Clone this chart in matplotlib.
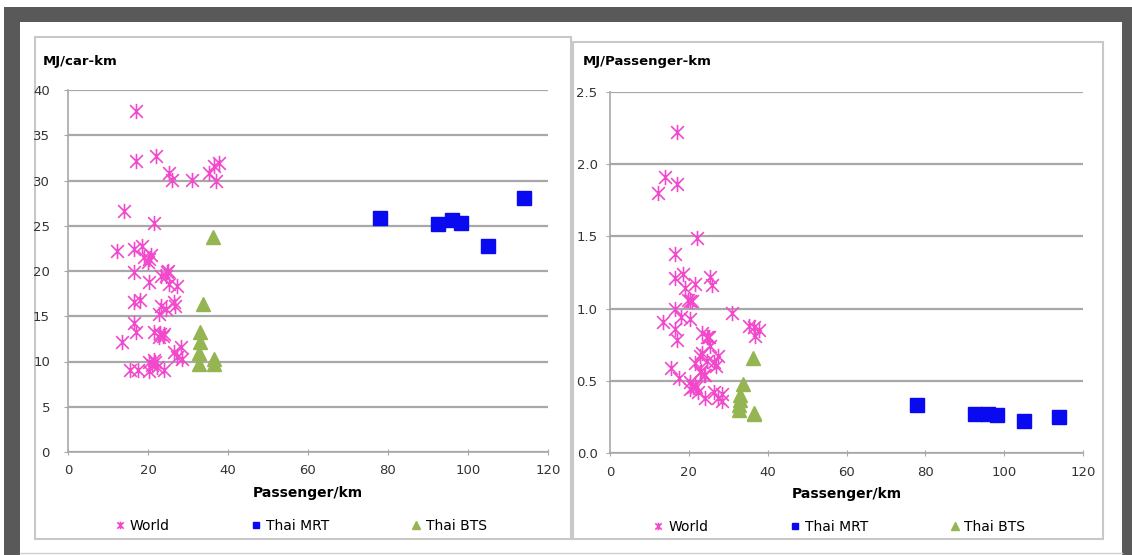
import matplotlib
matplotlib.use('Agg')
import matplotlib.pyplot as plt
from matplotlib.path import Path
from matplotlib.patches import Rectangle

# ─── Data ─────────────────────────────────────────────────────────────────────
world_x = [17.0, 17.0, 22.0, 25.3, 26.0, 31.0, 35.2, 36.5, 37.7, 36.9,
           13.9, 21.6, 12.3, 16.6, 18.4, 19.0, 19.9, 20.3, 16.4, 20.3,
           23.3, 24.8, 25.3, 27.3, 26.5, 26.8, 16.6, 17.9, 23.3, 22.8,
           16.6, 17.1, 21.6, 22.8, 24.0, 13.4, 26.5, 28.3, 27.3, 20.3,
           21.6, 15.4, 17.4, 20.3, 22.3, 24.0, 28.5,
           20.8, 24.5, 25.0, 23.0, 23.8, 21.0, 21.8, 24.5]
world_car = [37.7, 32.1, 32.7, 30.8, 30.1, 30.1, 30.8, 31.6, 31.9, 29.9,
             26.6, 25.3, 22.2, 22.4, 22.8, 21.6, 21.0, 21.3, 19.9, 18.8,
             19.4, 19.9, 18.6, 18.3, 16.6, 16.1, 16.6, 16.8, 16.1, 15.3,
             14.2, 13.3, 13.3, 12.7, 13.0, 12.2, 11.1, 11.6, 10.5, 10.0,
             10.2, 9.1, 9.1, 8.9, 9.4, 9.1, 10.3,
             21.8, 19.5, 20.0, 13.0, 12.8, 9.6, 10.0, 15.8]
world_pkm = [2.22, 1.86, 1.49, 1.22, 1.16, 0.97, 0.88, 0.87, 0.85, 0.81,
             1.91, 1.17, 1.80, 1.38, 1.24, 1.14, 1.06, 1.05, 1.21, 0.93,
             0.83, 0.80, 0.74, 0.67, 0.63, 0.60, 1.00, 0.94, 0.69, 0.67,
             0.86, 0.78, 0.62, 0.56, 0.54, 0.91, 0.42, 0.41, 0.38, 0.49,
             0.47, 0.59, 0.52, 0.44, 0.42, 0.38, 0.36,
             1.05, 0.80, 0.80, 0.57, 0.54, 0.46, 0.46, 0.64]

mrt_x = [78.0, 92.5, 96.0, 98.3, 105.0, 114.0]
mrt_car = [25.9, 25.2, 25.6, 25.3, 22.8, 28.1]
mrt_pkm = [0.33, 0.27, 0.27, 0.26, 0.22, 0.25]

bts_x = [36.3, 33.8, 33.0, 33.0, 32.8, 32.8, 36.6, 36.6]
bts_car = [23.8, 16.3, 13.3, 12.2, 10.9, 9.7, 10.3, 9.7]
bts_pkm = [0.66, 0.48, 0.40, 0.37, 0.33, 0.30, 0.28, 0.27]

# ─── Styles ───────────────────────────────────────────────────────────────────
PINK = '#F248CC'
BLUE = '#0A0AF0'
GREEN = '#94B552'
GRID = '#A8A8A8'
DARK = '#595959'
BOX = '#C8C8C8'

# Excel-style "star" marker: an X with a vertical bar
STAR = Path([(-1, -1), (1, 1), (-1, 1), (1, -1), (0, -1.2), (0, 1.2)],
            [Path.MOVETO, Path.LINETO, Path.MOVETO, Path.LINETO,
             Path.MOVETO, Path.LINETO])

W, H = 1132, 555
fig = plt.figure(figsize=(W / 100, H / 100), dpi=100)
fig.patch.set_facecolor('white')

# ─── Frame (pixel coordinates) ────────────────────────────────────────────────
bg = fig.add_axes([0, 0, 1, 1])
bg.set_xlim(0, W)
bg.set_ylim(H, 0)
bg.axis('off')
bg.add_patch(Rectangle((4, 7), 1128, 15, facecolor=DARK, edgecolor='none'))
bg.add_patch(Rectangle((4, 7), 16, 548, facecolor=DARK, edgecolor='none'))
bg.add_patch(Rectangle((1122, 7), 10, 548, facecolor=DARK, edgecolor='none'))
bg.plot([20, 1122], [553, 553], color='#D0D0D0', lw=1)
bg.add_patch(Rectangle((35, 37), 536, 502, facecolor='white',
                       edgecolor=BOX, lw=1.5))
bg.add_patch(Rectangle((573, 42), 530, 497, facecolor='white',
                       edgecolor=BOX, lw=1.5))


def px_axes(x0, x1, y0, y1):
    return fig.add_axes([x0 / W, (H - y1) / H, (x1 - x0) / W, (y1 - y0) / H])


def style_axes(ax, ylim, yticks, yfmt, ypad):
    ax.set_xlim(0, 120)
    ax.set_ylim(*ylim)
    ax.set_xticks(range(0, 121, 20))
    ax.set_yticks(yticks)
    ax.set_yticklabels([yfmt.format(v) for v in yticks])
    ax.grid(axis='y', color=GRID, lw=1.6)
    ax.set_axisbelow(True)
    for s in ('top', 'right'):
        ax.spines[s].set_visible(False)
    for s in ('left', 'bottom'):
        ax.spines[s].set_color(GRID)
        ax.spines[s].set_linewidth(1.2)
    ax.tick_params(axis='x', direction='inout', length=4, pad=7,
                   color=GRID, labelsize=9.5, labelcolor='#333333')
    ax.tick_params(axis='y', direction='out', length=3, pad=ypad,
                   color=GRID, labelsize=9.5, labelcolor='#333333')
    ax.set_xlabel('Passenger/km', fontsize=10, fontweight='bold')
    ax.xaxis.set_label_coords(0.5, -0.095)
    ax.patch.set_alpha(0)


def draw_series(ax, y_world, y_mrt, y_bts):
    ax.plot(world_x, y_world, ls='none', marker=STAR, ms=11,
            mec=PINK, mew=1.2, label='World', zorder=3)
    ax.plot(mrt_x, y_mrt, ls='none', marker='s', ms=10,
            mfc=BLUE, mec=BLUE, label='Thai MRT', zorder=4)
    ax.plot(bts_x, y_bts, ls='none', marker='^', ms=10.5,
            mfc=GREEN, mec=GREEN, label='Thai BTS', zorder=4)
    ax.legend(loc='center', bbox_to_anchor=(0.485, -0.205), ncol=3,
              frameon=False, fontsize=10, markerscale=0.5,
              handlelength=0.7, handletextpad=0.35, columnspacing=5.9)


# ─── Left chart: MJ/car-km ────────────────────────────────────────────────────
ax1 = px_axes(68, 548, 90, 452)
draw_series(ax1, world_car, mrt_car, bts_car)
style_axes(ax1, (0, 40), list(range(0, 41, 5)), '{:d}', 10)
fig.text(43 / W, 1 - 62 / H, 'MJ/car-km', fontsize=9.5, fontweight='bold',
         va='center', ha='left')

# ─── Right chart: MJ/Passenger-km ─────────────────────────────────────────────
ax2 = px_axes(610, 1083, 92, 453)
draw_series(ax2, world_pkm, mrt_pkm, bts_pkm)
style_axes(ax2, (0, 2.5), [0, 0.5, 1.0, 1.5, 2.0, 2.5], '{:.1f}', 6)
fig.text(583 / W, 1 - 62 / H, 'MJ/Passenger-km', fontsize=9.5,
         fontweight='bold', va='center', ha='left')

fig.savefig('out.png', dpi=100, facecolor='white')
